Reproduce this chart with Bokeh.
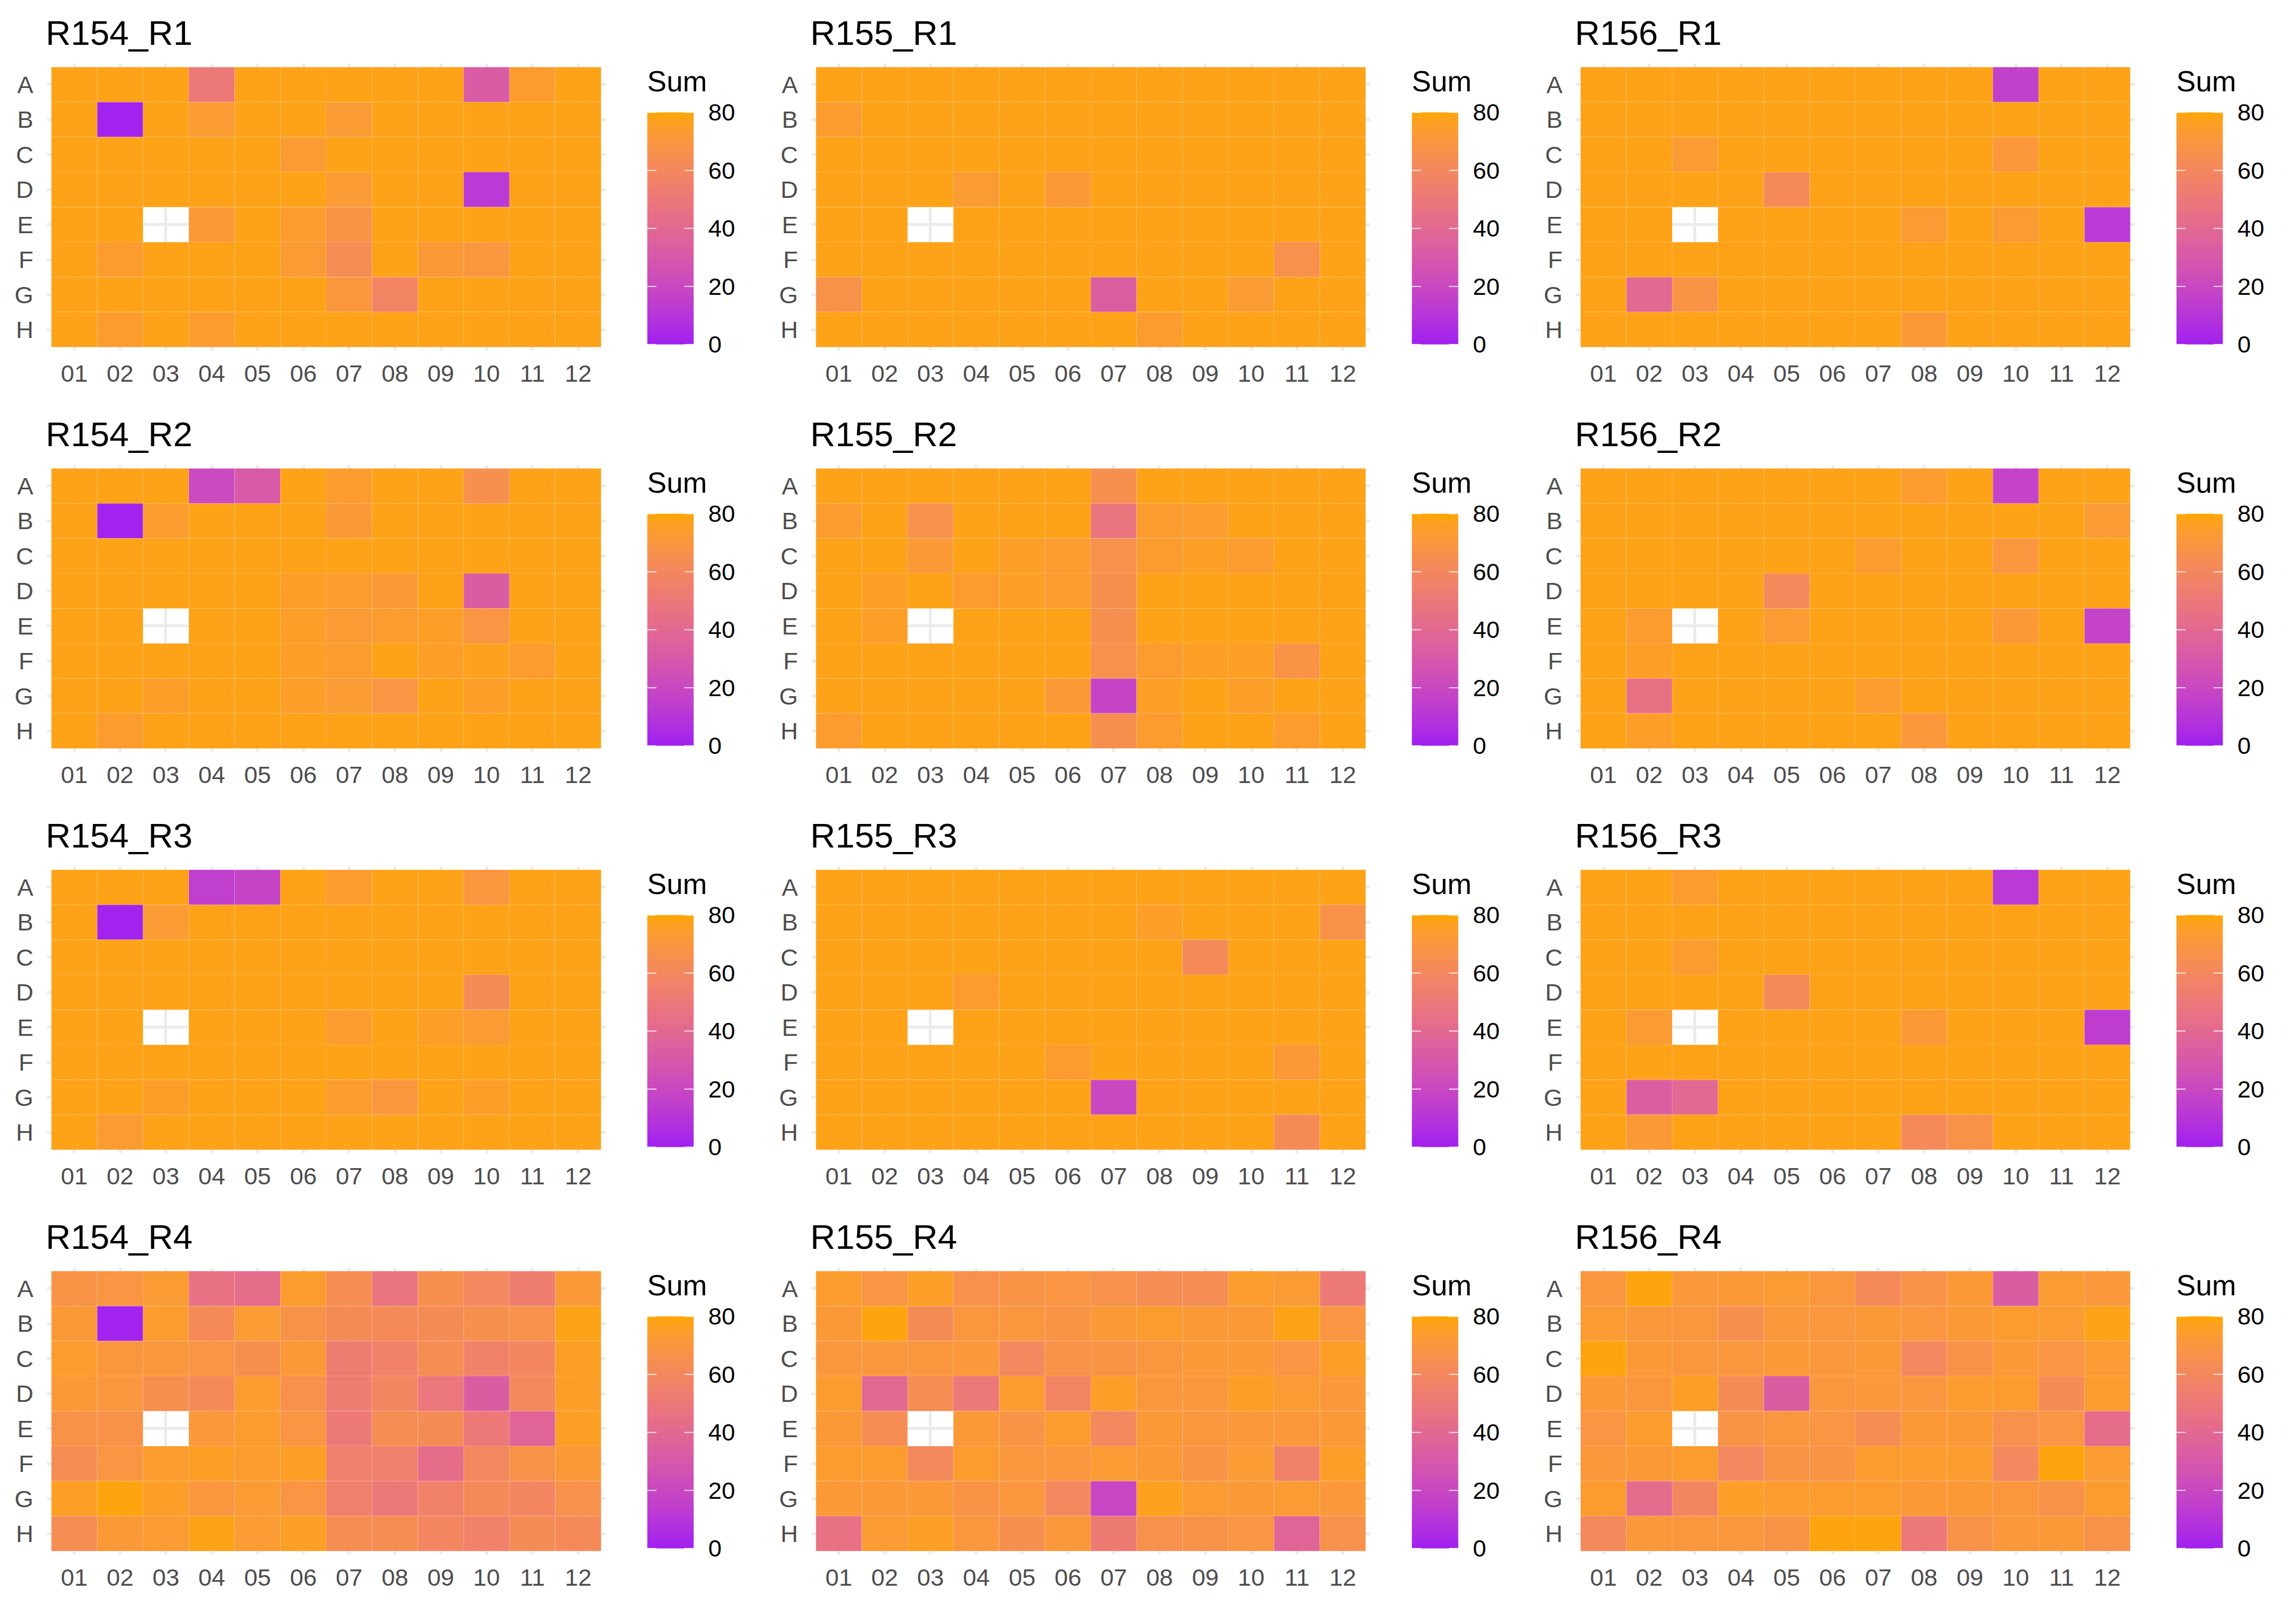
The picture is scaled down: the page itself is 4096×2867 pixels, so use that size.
import numpy as np
from bokeh.plotting import figure
from bokeh.models import ColumnDataSource, LinearColorMapper, FixedTicker, Range1d, Label
from bokeh.layouts import column, row
from bokeh.embed import file_html
from bokeh.resources import INLINE

# ---------------- data ----------------
COLS = ["01", "02", "03", "04", "05", "06", "07", "08", "09", "10", "11", "12"]
ROWS = ["A", "B", "C", "D", "E", "F", "G", "H"]
SCALE_TICKS = [0, 20, 40, 60, 80]
SCALE_LOW, SCALE_HIGH = 0, 80
LEGEND_TITLE = "Sum"
N = None  # well without data

R154_R1 = [
    [78, 78, 78, 50, 78, 78, 78, 78, 78, 32, 74, 78],
    [78, 1, 78, 73, 78, 78, 73, 78, 78, 78, 78, 78],
    [78, 78, 78, 78, 78, 73, 78, 78, 78, 78, 78, 78],
    [78, 78, 78, 78, 78, 78, 73, 78, 78, 12, 78, 78],
    [78, 78, N, 72, 78, 74, 68, 78, 78, 78, 78, 78],
    [78, 74, 78, 78, 78, 73, 64, 78, 72, 70, 78, 78],
    [78, 78, 78, 78, 78, 78, 70, 58, 78, 78, 78, 78],
    [78, 74, 78, 74, 78, 78, 78, 78, 78, 78, 78, 78],
]
R155_R1 = [
    [78, 78, 78, 78, 78, 78, 78, 78, 78, 78, 78, 78],
    [74, 78, 78, 78, 78, 78, 78, 78, 78, 78, 78, 78],
    [78, 78, 78, 78, 78, 78, 78, 78, 78, 78, 78, 78],
    [78, 78, 78, 73, 78, 72, 78, 78, 78, 78, 78, 78],
    [78, 78, N, 78, 78, 78, 78, 78, 78, 78, 78, 78],
    [78, 78, 78, 78, 78, 78, 78, 78, 78, 78, 66, 78],
    [67, 78, 78, 78, 78, 78, 34, 78, 78, 73, 78, 78],
    [78, 78, 78, 78, 78, 78, 78, 74, 78, 78, 78, 78],
]
R156_R1 = [
    [78, 78, 78, 78, 78, 78, 78, 78, 78, 16, 78, 78],
    [78, 78, 78, 78, 78, 78, 78, 78, 78, 78, 78, 78],
    [78, 78, 73, 78, 78, 78, 78, 78, 78, 71, 78, 78],
    [78, 78, 78, 78, 62, 78, 78, 78, 78, 78, 78, 78],
    [78, 78, N, 78, 78, 78, 78, 73, 78, 73, 78, 12],
    [78, 78, 78, 78, 78, 78, 78, 78, 78, 78, 78, 78],
    [78, 40, 68, 78, 78, 78, 78, 78, 78, 78, 78, 78],
    [78, 78, 78, 78, 78, 78, 78, 72, 78, 78, 78, 78],
]
R154_R2 = [
    [78, 78, 78, 21, 31, 78, 74, 78, 78, 65, 78, 78],
    [78, 1, 74, 78, 78, 78, 72, 78, 78, 78, 78, 78],
    [78, 78, 78, 78, 78, 78, 78, 78, 78, 78, 78, 78],
    [78, 78, 78, 78, 78, 75, 74, 72, 78, 33, 78, 78],
    [78, 78, N, 78, 78, 75, 73, 74, 75, 69, 78, 78],
    [78, 78, 78, 78, 78, 75, 74, 78, 75, 77, 74, 78],
    [78, 78, 75, 78, 78, 75, 73, 69, 78, 75, 78, 78],
    [78, 74, 78, 78, 78, 78, 78, 78, 78, 78, 78, 78],
]
R155_R2 = [
    [78, 78, 78, 78, 78, 78, 65, 78, 78, 78, 78, 78],
    [74, 78, 66, 78, 78, 78, 48, 74, 74, 78, 78, 78],
    [78, 78, 72, 78, 75, 74, 66, 74, 76, 74, 78, 78],
    [78, 76, 78, 74, 76, 74, 65, 78, 78, 78, 78, 78],
    [78, 75, N, 78, 78, 78, 65, 78, 78, 78, 78, 78],
    [78, 78, 78, 78, 78, 78, 66, 74, 76, 76, 68, 78],
    [78, 78, 78, 78, 78, 72, 18, 76, 78, 75, 78, 78],
    [74, 78, 78, 78, 78, 78, 65, 74, 78, 78, 74, 78],
]
R156_R2 = [
    [78, 78, 78, 78, 78, 78, 78, 74, 78, 17, 78, 78],
    [78, 78, 78, 78, 78, 78, 78, 78, 78, 78, 78, 73],
    [78, 78, 78, 78, 78, 78, 74, 78, 78, 70, 78, 78],
    [78, 78, 78, 78, 61, 78, 78, 78, 78, 78, 78, 78],
    [78, 74, N, 78, 73, 78, 78, 78, 78, 72, 78, 17],
    [78, 75, 78, 78, 78, 78, 78, 78, 78, 78, 78, 78],
    [78, 46, 78, 78, 78, 78, 74, 78, 78, 78, 78, 78],
    [78, 75, 78, 78, 78, 78, 78, 71, 78, 78, 78, 78],
]
R154_R3 = [
    [78, 78, 78, 15, 18, 78, 74, 78, 78, 70, 78, 78],
    [78, 1, 73, 78, 78, 78, 78, 78, 78, 78, 78, 78],
    [78, 78, 78, 78, 78, 78, 78, 78, 78, 78, 78, 78],
    [78, 78, 78, 78, 78, 78, 78, 78, 78, 63, 78, 78],
    [78, 78, N, 78, 78, 78, 74, 78, 75, 73, 78, 78],
    [78, 78, 78, 78, 78, 78, 78, 78, 78, 78, 78, 78],
    [78, 78, 75, 78, 78, 78, 74, 70, 78, 75, 78, 78],
    [78, 73, 78, 78, 78, 78, 78, 78, 78, 78, 78, 78],
]
R155_R3 = [
    [78, 78, 78, 78, 78, 78, 78, 78, 78, 78, 78, 78],
    [78, 78, 78, 78, 78, 78, 78, 75, 78, 78, 78, 67],
    [78, 78, 78, 78, 78, 78, 78, 78, 62, 78, 78, 78],
    [78, 78, 78, 74, 78, 78, 78, 78, 78, 78, 78, 78],
    [78, 78, N, 78, 78, 78, 78, 78, 78, 78, 78, 78],
    [78, 78, 78, 78, 78, 74, 78, 78, 78, 78, 72, 78],
    [78, 78, 78, 78, 78, 78, 20, 78, 78, 78, 78, 78],
    [78, 78, 78, 78, 78, 78, 78, 78, 78, 78, 63, 78],
]
R156_R3 = [
    [78, 78, 74, 78, 78, 78, 78, 78, 78, 12, 78, 78],
    [78, 78, 78, 78, 78, 78, 78, 78, 78, 78, 78, 78],
    [78, 78, 74, 78, 78, 78, 78, 78, 78, 78, 78, 78],
    [78, 78, 78, 78, 62, 78, 78, 78, 78, 78, 78, 78],
    [78, 73, N, 78, 78, 78, 78, 72, 78, 78, 78, 14],
    [78, 78, 78, 78, 78, 78, 78, 78, 78, 78, 78, 78],
    [78, 34, 40, 78, 78, 78, 78, 78, 78, 78, 78, 78],
    [78, 72, 78, 78, 78, 78, 78, 62, 67, 78, 78, 78],
]
R154_R4 = [
    [68, 69, 73, 46, 43, 74, 64, 48, 65, 60, 54, 72],
    [72, 1, 74, 62, 73, 67, 63, 62, 63, 65, 66, 78],
    [74, 70, 70, 69, 65, 72, 53, 56, 64, 56, 59, 76],
    [72, 70, 65, 62, 74, 66, 53, 59, 49, 33, 61, 75],
    [67, 67, N, 71, 74, 69, 51, 64, 63, 50, 38, 76],
    [64, 69, 74, 76, 74, 76, 55, 55, 43, 60, 67, 72],
    [76, 79, 75, 70, 73, 69, 55, 50, 56, 62, 59, 66],
    [64, 72, 73, 78, 73, 76, 64, 64, 59, 56, 63, 62],
]
R155_R4 = [
    [74, 69, 75, 66, 68, 69, 66, 64, 64, 74, 73, 51],
    [72, 79, 63, 70, 70, 68, 72, 74, 72, 72, 78, 69],
    [70, 70, 70, 71, 60, 67, 68, 70, 72, 72, 69, 75],
    [74, 40, 64, 50, 74, 58, 75, 70, 70, 76, 73, 71],
    [72, 64, N, 72, 68, 74, 60, 72, 70, 71, 71, 72],
    [74, 74, 61, 74, 70, 70, 73, 72, 68, 73, 56, 75],
    [72, 72, 72, 68, 70, 60, 19, 77, 73, 72, 73, 71],
    [46, 73, 76, 70, 65, 71, 52, 66, 67, 69, 38, 66],
]
R156_R4 = [
    [70, 79, 71, 72, 73, 70, 62, 67, 72, 33, 73, 71],
    [73, 71, 70, 65, 71, 70, 72, 70, 72, 74, 73, 78],
    [79, 72, 70, 70, 72, 70, 72, 60, 67, 72, 69, 73],
    [72, 70, 76, 63, 33, 70, 71, 70, 74, 74, 63, 74],
    [69, 74, N, 68, 70, 69, 64, 72, 72, 66, 69, 43],
    [71, 72, 74, 60, 68, 68, 74, 74, 74, 60, 79, 73],
    [74, 42, 59, 75, 74, 74, 74, 72, 72, 70, 67, 74],
    [61, 71, 70, 70, 68, 79, 79, 50, 67, 71, 72, 67],
]

PANEL_GRID = [
    [("R154_R1", R154_R1), ("R155_R1", R155_R1), ("R156_R1", R156_R1)],
    [("R154_R2", R154_R2), ("R155_R2", R155_R2), ("R156_R2", R156_R2)],
    [("R154_R3", R154_R3), ("R155_R3", R155_R3), ("R156_R3", R156_R3)],
    [("R154_R4", R154_R4), ("R155_R4", R155_R4), ("R156_R4", R156_R4)],
]

# ---------------- colour scale (Lab interpolation purple -> orange) ----------------
LOW_COLOR, HIGH_COLOR = "#A020F0", "#FFA500"
WHITE = np.array([0.95047, 1.0, 1.08883])
M = np.array([[0.4124564, 0.3575761, 0.1804375],
              [0.2126729, 0.7151522, 0.0721750],
              [0.0193339, 0.1191920, 0.9503041]])
MI = np.linalg.inv(M)


def hex_to_lab(h):
    rgb = np.array([int(h[i:i + 2], 16) / 255 for i in (1, 3, 5)])
    lin = np.where(rgb <= 0.04045, rgb / 12.92, ((rgb + 0.055) / 1.055) ** 2.4)
    xyz = M @ lin / WHITE
    d = 6 / 29
    f = np.where(xyz > d ** 3, np.cbrt(xyz), xyz / (3 * d * d) + 4 / 29)
    return np.array([116 * f[1] - 16, 500 * (f[0] - f[1]), 200 * (f[1] - f[2])])


def lab_to_hex(lab):
    L, a, b = lab
    fy = (L + 16) / 116
    fs = np.array([fy + a / 500, fy, fy - b / 200])
    d = 6 / 29
    xyz = np.where(fs > d, fs ** 3, 3 * d * d * (fs - 4 / 29)) * WHITE
    lin = np.clip(MI @ xyz, 0, 1)
    rgb = np.where(lin <= 0.0031308, 12.92 * lin, 1.055 * lin ** (1 / 2.4) - 0.055)
    rgb = np.clip(np.round(rgb * 255), 0, 255).astype(int)
    return "#%02x%02x%02x" % tuple(rgb)


lab_lo, lab_hi = hex_to_lab(LOW_COLOR), hex_to_lab(HIGH_COLOR)
PALETTE = [lab_to_hex(lab_lo + (lab_hi - lab_lo) * t) for t in np.linspace(0, 1, 256)]

# ---------------- layout constants (target px) ----------------
H = 716
BT, BB = 113, 91                      # shared top / bottom borders -> frame 113..625
HM_W, HM_BL, HM_BR = 1120, 83, 40
CB_W, CB_BL, CB_BAR, CB_FRAME = 244, 34, 83, 109
BAR_TOP_GAP, BAR_BOTTOM_GAP = 87, 11  # bar spans px 200..614 of the figure
FONT = "Liberation Sans"
TICK_FRAC = 0.2


def make_heatmap(title, grid, mapper):
    xs, ys, vals = [], [], []
    for ri, _ in enumerate(ROWS):
        for ci, _ in enumerate(COLS):
            v = grid[ri][ci]
            if v is None:
                continue
            xs.append(ci + 1)
            ys.append(len(ROWS) - ri)
            vals.append(v)
    src = ColumnDataSource(dict(x=xs, y=ys, v=vals))

    p = figure(width=HM_W, height=H, output_backend="svg", toolbar_location=None,
               x_range=Range1d(0.4, len(COLS) + 0.6), y_range=Range1d(0.4, len(ROWS) + 0.6),
               min_border_left=HM_BL, min_border_right=HM_BR,
               min_border_top=BT, min_border_bottom=BB, title=title)
    p.outline_line_color = None
    p.background_fill_color = "white"
    p.border_fill_color = "white"

    p.title.text_font = FONT
    p.title.text_font_size = "62px"
    p.title.text_font_style = "normal"
    p.title.text_color = "black"
    p.title.align = "left"
    p.title.standoff = 42
    p.title.offset = -2

    xt = list(range(1, len(COLS) + 1))
    yt = list(range(1, len(ROWS) + 1))
    p.xaxis.ticker = FixedTicker(ticks=xt)
    p.yaxis.ticker = FixedTicker(ticks=yt)
    p.xaxis.major_label_overrides = {i + 1: c for i, c in enumerate(COLS)}
    p.yaxis.major_label_overrides = {len(ROWS) - i: r for i, r in enumerate(ROWS)}
    for ax in (p.xaxis, p.yaxis):
        ax.axis_line_color = None
        ax.major_tick_line_color = None
        ax.minor_tick_line_color = None
        ax.major_label_text_font = FONT
        ax.major_label_text_font_size = "43px"
        ax.major_label_text_color = "#4D4D4D"
    p.xaxis.major_label_standoff = 20
    p.yaxis.major_label_standoff = 18

    p.xgrid.ticker = FixedTicker(ticks=xt)
    p.ygrid.ticker = FixedTicker(ticks=yt)
    for g in (p.xgrid, p.ygrid):
        g.grid_line_color = "#EBEBEB"
        g.grid_line_width = 5
        g.minor_grid_line_color = None

    p.rect("x", "y", width=1, height=1, source=src,
           fill_color={"field": "v", "transform": mapper},
           line_color="white", line_alpha=0.15, line_width=1)
    return p


def make_colorbar(mapper):
    frame_h = H - BT - BB
    bar_px = frame_h - BAR_TOP_GAP - BAR_BOTTOM_GAP
    upp = (SCALE_HIGH - SCALE_LOW) / bar_px
    y0 = SCALE_LOW - BAR_BOTTOM_GAP * upp
    y1 = SCALE_HIGH + BAR_TOP_GAP * upp
    c = figure(width=CB_W, height=H, output_backend="svg", toolbar_location=None,
               x_range=Range1d(0, CB_FRAME / CB_BAR), y_range=Range1d(y0, y1),
               x_axis_location=None, y_axis_location="right",
               min_border_left=CB_BL, min_border_right=CB_W - CB_BL - CB_FRAME,
               min_border_top=BT, min_border_bottom=BB)
    c.outline_line_color = None
    c.xgrid.visible = False
    c.ygrid.visible = False

    grad = np.linspace(SCALE_LOW, SCALE_HIGH, 256).reshape(-1, 1)
    c.image(image=[grad], x=0, y=SCALE_LOW, dw=1, dh=SCALE_HIGH - SCALE_LOW,
            color_mapper=mapper)

    n = len(SCALE_TICKS)
    c.segment(x0=[0] * n + [1 - TICK_FRAC] * n, x1=[TICK_FRAC] * n + [1] * n,
              y0=SCALE_TICKS * 2, y1=SCALE_TICKS * 2,
              line_color="white", line_width=1.5)

    ax = c.yaxis[0]
    ax.ticker = FixedTicker(ticks=SCALE_TICKS)
    ax.axis_line_color = None
    ax.major_tick_line_color = None
    ax.minor_tick_line_color = None
    ax.major_tick_out = 0
    ax.major_tick_in = 0
    ax.major_label_text_font = FONT
    ax.major_label_text_font_size = "43px"
    ax.major_label_text_color = "black"
    ax.major_label_standoff = 0

    c.add_layout(Label(x=0, y=SCALE_HIGH, x_offset=0, y_offset=56, text=LEGEND_TITLE,
                       text_font=FONT, text_font_size="52px", text_color="black",
                       text_baseline="alphabetic", text_align="left"))
    return c


rows_layout = []
for panel_row in PANEL_GRID:
    figs = []
    for title, grid in panel_row:
        mapper = LinearColorMapper(palette=PALETTE, low=SCALE_LOW, high=SCALE_HIGH)
        figs.append(make_heatmap(title, grid, mapper))
        figs.append(make_colorbar(mapper))
    rows_layout.append(row(*figs, spacing=0))
layout = column(*rows_layout, spacing=0)

open("out.html", "w").write(file_html(layout, INLINE))
